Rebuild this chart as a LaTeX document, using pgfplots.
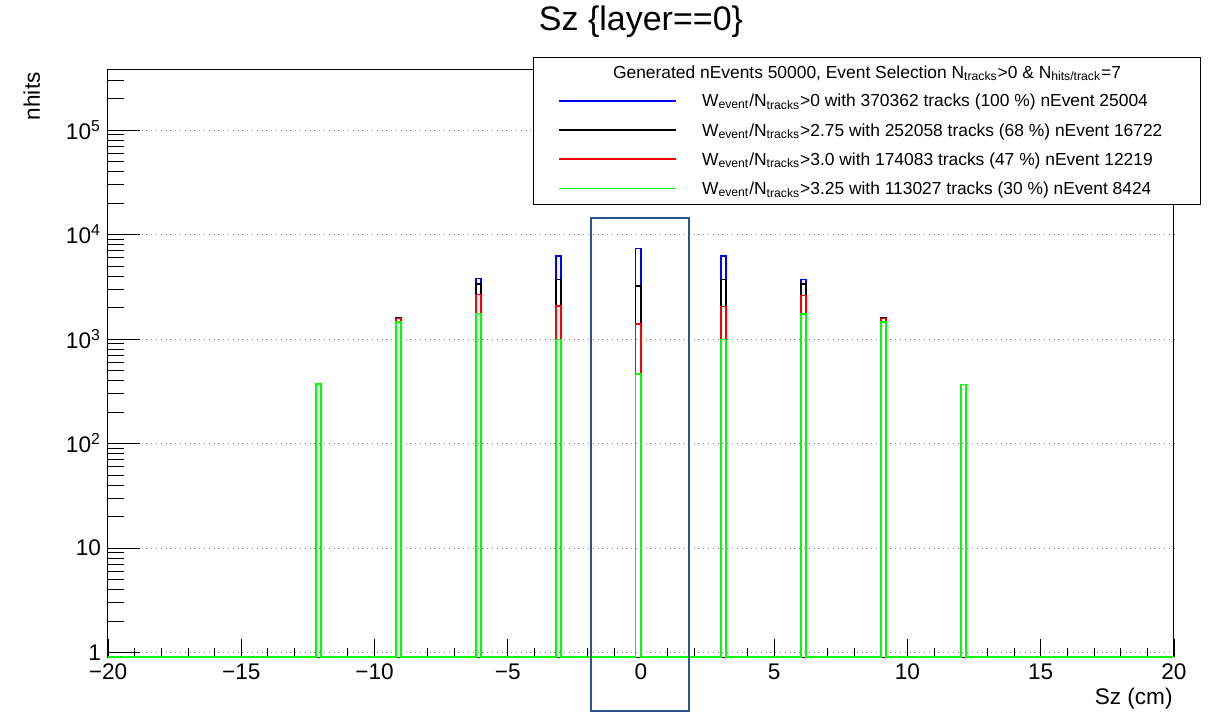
\documentclass[border=0pt]{standalone}
\usepackage{fontspec}
\setmainfont{Liberation Sans}
\usepackage{pgfplots}
\pgfplotsset{compat=1.18}
\usepackage{pgfplotstable}

\definecolor{hblue}{RGB}{0,0,255}
\definecolor{hblack}{RGB}{0,0,0}
\definecolor{hred}{RGB}{255,0,0}
\definecolor{hgreen}{RGB}{0,255,0}
\definecolor{annot}{RGB}{47,82,143}

% bin left edge, bin content (empty bins drawn at the axis floor)
\pgfplotstableread{
x y
-20 0.906
-12.2 370
-12.0 0.906
-9.2 1590
-9.0 0.906
-6.2 3796
-6.0 0.906
-3.2 6210
-3.0 0.906
-0.2 7360
0.0 0.906
3.0 6250
3.2 0.906
6.0 3715
6.2 0.906
9.0 1590
9.2 0.906
12.0 368
12.2 0.906
20 0.906
}\hBlue
\pgfplotstableread{
x y
-20 0.906
-12.2 370
-12.0 0.906
-9.2 1585
-9.0 0.906
-6.2 3350
-6.0 0.906
-3.2 3715
-3.0 0.906
-0.2 3226
0.0 0.906
3.0 3715
3.2 0.906
6.0 3350
6.2 0.906
9.0 1585
9.2 0.906
12.0 368
12.2 0.906
20 0.906
}\hBlack
\pgfplotstableread{
x y
-20 0.906
-12.2 369
-12.0 0.906
-9.2 1570
-9.0 0.906
-6.2 2670
-6.0 0.906
-3.2 2075
-3.0 0.906
-0.2 1395
0.0 0.906
3.0 2048
3.2 0.906
6.0 2610
6.2 0.906
9.0 1570
9.2 0.906
12.0 367
12.2 0.906
20 0.906
}\hRed
\pgfplotstableread{
x y
-20 0.906
-12.2 372
-12.0 0.906
-9.2 1450
-9.0 0.906
-6.2 1755
-6.0 0.906
-3.2 989
-3.0 0.906
-0.2 463
0.0 0.906
3.0 989
3.2 0.906
6.0 1740
6.2 0.906
9.0 1449
9.2 0.906
12.0 367
12.2 0.906
20 0.906
}\hGreen

\newcommand{\lfont}{\fontsize{8.7}{10}\selectfont}
\newcommand{\sub}[1]{\textsubscript{#1}}

\begin{document}
\begin{tikzpicture}
\begin{axis}[
  at={(0pt,0pt)}, anchor=south west,
  scale only axis, width=533pt, height=293.5pt,
  ymode=log, log basis y=10,
  xmin=-20, xmax=20, ymin=0.906, ymax=3.76e5,
  axis line style={black, line width=0.5pt},
  tick align=inside, xtick pos=bottom, ytick pos=left,
  xtick={-20,-15,...,20},
  xticklabels={−20,−15,−10,−5,0,5,10,15,20},
  minor x tick num=4,
  ytick={1,10,100,1000,10000,100000},
  yticklabels={1,10,10\textsuperscript{2},10\textsuperscript{3},10\textsuperscript{4},10\textsuperscript{5}},
  minor ytick={2,3,4,5,6,7,8,9,20,30,40,50,60,70,80,90,200,300,400,500,600,700,800,900,2000,3000,4000,5000,6000,7000,8000,9000,20000,30000,40000,50000,60000,70000,80000,90000,200000,300000},
  tick style={black, line width=0.4pt},
  xtick style={/pgfplots/major tick length=9pt, /pgfplots/minor tick length=4.5pt},
  ytick style={/pgfplots/major tick length=16pt, /pgfplots/minor tick length=8pt},
  ymajorgrids,
  major grid style={dotted, gray, line width=0.4pt},
  ticklabel style={font=\fontsize{11.3}{13}\selectfont},
  /pgf/number format/assume math mode=true,
  clip=false,
]
\addplot[const plot, color=hblue, line width=0.8pt] table {\hBlue};
\addplot[const plot, color=hblack, line width=0.8pt] table {\hBlack};
\addplot[const plot, color=hred, line width=0.8pt] table {\hRed};
\addplot[const plot, color=hgreen, line width=0.8pt] table {\hGreen};
\end{axis}

% title and axis titles
\node[anchor=base, font=\fontsize{17}{20}\selectfont, inner sep=0pt] at (266.5pt,313pt) {Sz \{layer==0\}};
\node[anchor=base east, rotate=90, font=\fontsize{11.3}{13}\selectfont, inner sep=0pt] at (-34pt,292.5pt) {nhits};
\node[anchor=base east, font=\fontsize{11.3}{13}\selectfont, inner sep=0pt] at (532.5pt,-23.5pt) {Sz (cm)};

% legend
\draw[black, line width=0.5pt, fill=white] (212.5pt,226.5pt) rectangle (546pt,300pt);
\node[anchor=base, font=\lfont, inner sep=0pt] at (379.5pt,289.5pt) {Generated nEvents 50000, Event Selection N\sub{tracks}>0 \& N\sub{hits/track}=7};
\draw[hblue, line width=0.8pt] (225.5pt,278.15pt) -- (284pt,278.15pt);
\draw[hblack, line width=0.8pt] (225.5pt,263.5pt) -- (284pt,263.5pt);
\draw[hred, line width=0.8pt] (225.5pt,249pt) -- (284pt,249pt);
\draw[hgreen, line width=0.8pt] (225.5pt,234.2pt) -- (284pt,234.2pt);
\node[anchor=base west, font=\lfont, inner sep=0pt] at (296.85pt,275.15pt) {W\sub{event}/N\sub{tracks}>0 with 370362 tracks (100 \%) nEvent 25004};
\node[anchor=base west, font=\lfont, inner sep=0pt] at (296.85pt,260.5pt) {W\sub{event}/N\sub{tracks}>2.75 with 252058 tracks (68 \%) nEvent 16722};
\node[anchor=base west, font=\lfont, inner sep=0pt] at (296.85pt,245.85pt) {W\sub{event}/N\sub{tracks}>3.0 with 174083 tracks (47 \%) nEvent 12219};
\node[anchor=base west, font=\lfont, inner sep=0pt] at (296.85pt,231.2pt) {W\sub{event}/N\sub{tracks}>3.25 with 113027 tracks (30 \%) nEvent 8424};

% annotation box
\draw[annot, line width=1.25pt] (241.5pt,-27pt) rectangle (290.5pt,219.5pt);

\pgfresetboundingbox
\useasboundingbox (-54pt,-28.5pt) rectangle (552pt,328.5pt);
\end{tikzpicture}
\end{document}
